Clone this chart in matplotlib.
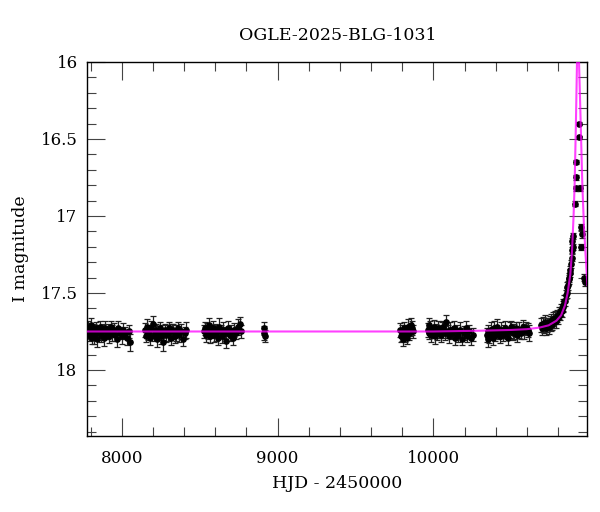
import numpy as np
import matplotlib
matplotlib.use("Agg")
import matplotlib.pyplot as plt
from matplotlib.ticker import MultipleLocator

title = "OGLE-2025-BLG-1031"
xlabel = "HJD - 2450000"
ylabel = "I magnitude"
xticks = [8000, 9000, 10000]
yticks = [16, 16.5, 17, 17.5, 18]
ytick_labels = ["16", "16.5", "17", "17.5", "18"]

# Season A
tA = [7786, 7791, 7797, 7802, 7808, 7813, 7819, 7825, 7831, 7838,
      7844, 7851, 7858, 7865, 7872, 7879, 7887, 7895, 7903, 7912,
      7921, 7930, 7939, 7949, 7958, 7968, 7978, 7989, 8000, 8011,
      8023, 8035, 8046, 8054]
mA = [17.73, 17.77, 17.75, 17.71, 17.79, 17.76, 17.74, 17.78, 17.75, 17.73,
      17.80, 17.76, 17.72, 17.77, 17.75, 17.74, 17.79, 17.73, 17.76, 17.75,
      17.78, 17.72, 17.76, 17.74, 17.77, 17.80, 17.73, 17.76, 17.78, 17.74,
      17.76, 17.79, 17.75, 17.82]
eA = [0.05, 0.04, 0.045, 0.05, 0.04, 0.045, 0.04, 0.05, 0.045, 0.04,
      0.05, 0.045, 0.04, 0.05, 0.045, 0.04, 0.055, 0.045, 0.04, 0.05,
      0.045, 0.04, 0.05, 0.045, 0.04, 0.05, 0.045, 0.04, 0.05, 0.045,
      0.04, 0.05, 0.045, 0.055]
# Season B
tB = [8152, 8158, 8164, 8170, 8177, 8184, 8191, 8198, 8205, 8212,
      8220, 8228, 8236, 8244, 8252, 8260, 8268, 8277, 8286, 8295,
      8304, 8313, 8322, 8331, 8340, 8350, 8360, 8370, 8381, 8392,
      8403, 8414]
mB = [17.74, 17.78, 17.72, 17.76, 17.75, 17.79, 17.73, 17.70, 17.77, 17.75,
      17.74, 17.80, 17.76, 17.73, 17.78, 17.75, 17.82, 17.74, 17.77, 17.76,
      17.73, 17.79, 17.75, 17.74, 17.78, 17.76, 17.73, 17.77, 17.75, 17.80,
      17.76, 17.74]
eB = [0.045, 0.04, 0.05, 0.045, 0.04, 0.05, 0.045, 0.05, 0.04, 0.045,
      0.04, 0.05, 0.045, 0.04, 0.05, 0.045, 0.055, 0.04, 0.045, 0.05,
      0.04, 0.045, 0.05, 0.04, 0.045, 0.05, 0.04, 0.045, 0.05, 0.045,
      0.04, 0.05]
# Season C
tC = [8527, 8533, 8540, 8547, 8554, 8561, 8568, 8576, 8584, 8592,
      8600, 8608, 8617, 8626, 8635, 8644, 8653, 8662, 8672, 8682,
      8692, 8702, 8712, 8723, 8734, 8745, 8756, 8767]
mC = [17.75, 17.73, 17.77, 17.74, 17.76, 17.71, 17.78, 17.75, 17.73, 17.77,
      17.74, 17.76, 17.79, 17.72, 17.75, 17.78, 17.74, 17.76, 17.81, 17.73,
      17.77, 17.75, 17.79, 17.74, 17.76, 17.72, 17.70, 17.75]
eC = [0.045, 0.04, 0.05, 0.045, 0.04, 0.05, 0.045, 0.04, 0.05, 0.045,
      0.04, 0.05, 0.045, 0.055, 0.04, 0.045, 0.05, 0.04, 0.045, 0.05,
      0.04, 0.045, 0.05, 0.045, 0.04, 0.05, 0.045, 0.04]
# Season D
tD = [8910, 8914, 8918]
mD = [17.73, 17.76, 17.78]
eD = [0.04, 0.045, 0.04]
# Season E
tE = [9788, 9794, 9800, 9806, 9812, 9818, 9824, 9830, 9836, 9843,
      9850, 9857, 9864, 9870]
mE = [17.74, 17.78, 17.76, 17.80, 17.73, 17.77, 17.75, 17.79, 17.72, 17.76,
      17.74, 17.71, 17.73, 17.75]
eE = [0.045, 0.04, 0.05, 0.045, 0.04, 0.05, 0.045, 0.04, 0.05, 0.045,
      0.04, 0.05, 0.045, 0.04]
# Season F
tF = [9963, 9969, 9975, 9981, 9988, 9995, 10002, 10009, 10016, 10024,
      10032, 10040, 10048, 10056, 10065, 10074, 10083, 10092, 10101, 10110,
      10120, 10130, 10140, 10150, 10161, 10172, 10183, 10195, 10207, 10219,
      10231, 10243, 10254]
mF = [17.74, 17.71, 17.76, 17.73, 17.77, 17.75, 17.72, 17.78, 17.74, 17.76,
      17.73, 17.75, 17.77, 17.74, 17.72, 17.76, 17.69, 17.75, 17.78, 17.74,
      17.76, 17.73, 17.79, 17.75, 17.77, 17.74, 17.80, 17.76, 17.73, 17.78,
      17.75, 17.79, 17.77]
eF = [0.045, 0.05, 0.04, 0.045, 0.05, 0.04, 0.045, 0.05, 0.04, 0.045,
      0.05, 0.04, 0.045, 0.05, 0.04, 0.045, 0.05, 0.04, 0.045, 0.05,
      0.04, 0.045, 0.05, 0.04, 0.045, 0.05, 0.04, 0.045, 0.05, 0.04,
      0.045, 0.05, 0.04]
# Season G
tG = [10342, 10348, 10354, 10360, 10367, 10374, 10381, 10388, 10395, 10403,
      10411, 10419, 10427, 10435, 10444, 10453, 10462, 10471, 10480, 10489,
      10499, 10509, 10519, 10529, 10540, 10551, 10562, 10573, 10584, 10595,
      10606, 10617]
mG = [17.77, 17.80, 17.75, 17.78, 17.74, 17.76, 17.79, 17.73, 17.77, 17.75,
      17.72, 17.76, 17.78, 17.74, 17.77, 17.75, 17.73, 17.76, 17.79, 17.74,
      17.72, 17.76, 17.75, 17.73, 17.77, 17.74, 17.76, 17.72, 17.75, 17.73,
      17.74, 17.76]
eG = [0.045, 0.05, 0.04, 0.045, 0.05, 0.04, 0.045, 0.05, 0.04, 0.045,
      0.05, 0.04, 0.045, 0.05, 0.04, 0.045, 0.05, 0.04, 0.045, 0.05,
      0.04, 0.045, 0.05, 0.04, 0.045, 0.05, 0.04, 0.045, 0.05, 0.04,
      0.045, 0.05]
# Season H (rise)
tH = [10692, 10698, 10704, 10710, 10716, 10722, 10728, 10734, 10740, 10746,
      10752, 10758, 10764, 10770, 10776, 10782, 10788, 10794, 10800, 10806,
      10812, 10818, 10824, 10830, 10835, 10840, 10845, 10850, 10855, 10860,
      10864, 10868, 10872, 10876, 10880, 10884]
mH = [17.71, 17.73, 17.70, 17.72, 17.69, 17.73, 17.71, 17.70, 17.72, 17.69,
      17.71, 17.68, 17.70, 17.67, 17.69, 17.66, 17.68, 17.65, 17.66, 17.63,
      17.64, 17.61, 17.62, 17.58, 17.59, 17.55, 17.55, 17.51, 17.50, 17.46,
      17.45, 17.41, 17.40, 17.37, 17.35, 17.31]
eH = [0.045, 0.04, 0.045, 0.04, 0.045, 0.04, 0.045, 0.04, 0.045, 0.04,
      0.04, 0.045, 0.04, 0.045, 0.04, 0.04, 0.045, 0.04, 0.04, 0.04,
      0.035, 0.04, 0.035, 0.04, 0.035, 0.035, 0.035, 0.03, 0.03, 0.03,
      0.03, 0.03, 0.03, 0.025, 0.025, 0.025]
# Peak
tP = [10888, 10891, 10893, 10895, 10897, 10907, 10914, 10915, 10916,
      10937, 10937, 10943, 10950, 10952, 10950, 10969, 10972]
mP = [17.27, 17.22, 17.16, 17.13, 17.20, 16.92, 16.82, 16.75, 16.65,
      16.40, 16.49, 16.82, 17.07, 17.12, 17.20, 17.40, 17.43]
eP = [0.02, 0.02, 0.02, 0.02, 0.02, 0.015, 0.015, 0.015, 0.015,
      0.012, 0.012, 0.015, 0.02, 0.02, 0.02, 0.025, 0.025]

# Model curve
model_t = [7779, 8500, 9000, 9500, 10000, 10300, 10500, 10600, 10680, 10740,
           10790, 10820, 10845, 10862, 10879, 10890, 10900, 10907, 10915, 10922,
           10928, 10935, 10945, 10956, 10966, 10977, 10989]
model_m = [17.75, 17.75, 17.75, 17.75, 17.75, 17.745, 17.74, 17.735, 17.725, 17.71,
           17.68, 17.645, 17.58, 17.50, 17.38, 17.23, 17.00, 16.79, 16.40, 16.00,
           15.20, 16.00, 16.37, 16.79, 17.05, 17.25, 17.45]

t_all = tA + tB + tC + tD + tE + tF + tG + tH + tP
m_all = mA + mB + mC + mD + mE + mF + mG + mH + mP
e_all = eA + eB + eC + eD + eE + eF + eG + eH + eP

plt.rcParams['font.family'] = ['DejaVu Serif']
fig = plt.figure(figsize=(6.0, 5.12), dpi=100)
ax = fig.add_axes([0.1455, 0.148, 0.8333, 0.731])

ax.errorbar(t_all, m_all, yerr=e_all, fmt='o', color='black', ms=3.8,
            elinewidth=0.9, capsize=2.4, capthick=0.9, ecolor='#222222', zorder=2)
ax.plot(model_t, model_m, color='#ff00ff', lw=1.5, alpha=0.75, zorder=3)

ax.set_xlim(7779, 10988)
ax.set_ylim(18.43, 16.0)
ax.set_xticks(xticks)
ax.set_xticklabels([str(v) for v in xticks])
ax.set_yticks(yticks)
ax.set_yticklabels(ytick_labels)
ax.xaxis.set_minor_locator(MultipleLocator(200))
ax.yaxis.set_minor_locator(MultipleLocator(0.1))
ax.tick_params(which='both', direction='in', top=True, right=True, width=0.8,
               labelsize=12, color='#444444')
ax.tick_params(which='major', length=13)
ax.tick_params(which='minor', length=6.5)
ax.tick_params(axis='x', which='major', pad=10)
ax.tick_params(axis='y', which='major', pad=7)
for s in ax.spines.values():
    s.set_linewidth(1.0)

ax.set_title(title, fontsize=12.5, pad=16)
ax.set_xlabel(xlabel, fontsize=12.5, labelpad=6)
ax.set_ylabel(ylabel, fontsize=12.5, labelpad=8)

fig.savefig("out.png", dpi=100)
